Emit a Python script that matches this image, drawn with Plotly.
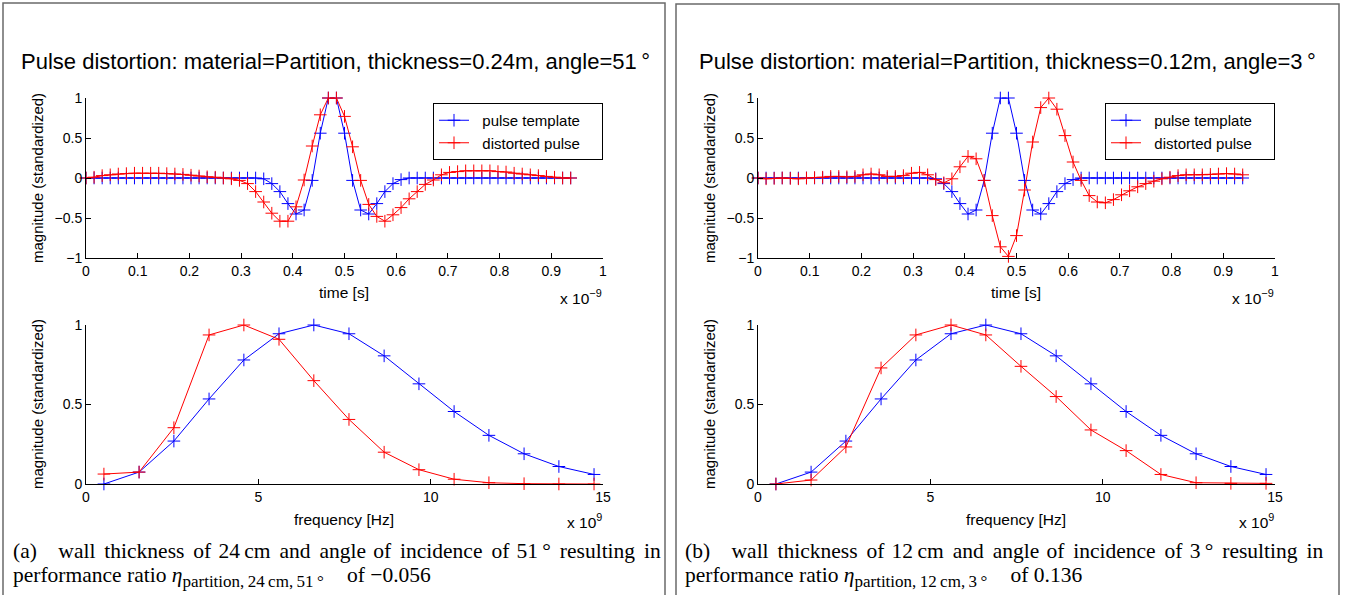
import plotly.graph_objects as go

# ---------------- data ----------------
t_step = 1 / 64  # sampling step, in units of 1e-9 s
time_ns = [i * t_step for i in range(61)]

pulse_template = [
    0.0, 0.0, 0.0, 0.0, 0.0, 0.0, 0.0, 0.0, 0.0, 0.0,
    0.0, 0.0, 0.0, 0.0, 0.0, 0.0, 0.0, 0.0, 0.0, 0.0,
    0.0, 0.0, -0.01, -0.07, -0.17, -0.32, -0.45, -0.40, -0.03, 0.56,
    1.0, 1.0, 0.56, -0.03, -0.40, -0.45, -0.32, -0.17, -0.07, -0.02,
    0.0, 0.0, 0.0, 0.0, 0.0, 0.0, 0.0, 0.0, 0.0, 0.0,
    0.0, 0.0, 0.0, 0.0, 0.0, 0.0, 0.0, 0.0, 0.0, 0.0,
    0.0,
]

distorted_a = [
    0.0, 0.01, 0.03, 0.04, 0.05, 0.055, 0.06, 0.06, 0.06, 0.06,
    0.055, 0.05, 0.045, 0.035, 0.025, 0.015, 0.01, 0.0, -0.01, -0.03,
    -0.07, -0.17, -0.30, -0.44, -0.54, -0.54, -0.36, -0.025, 0.40, 0.79,
    1.0, 1.0, 0.77, 0.39, -0.03, -0.33, -0.48, -0.54, -0.46, -0.37,
    -0.26, -0.17, -0.08, -0.025, 0.04, 0.07, 0.08, 0.09, 0.09, 0.09,
    0.09, 0.08, 0.075, 0.06, 0.05, 0.04, 0.03, 0.02, 0.01, 0.0,
    0.0,
]

distorted_b = [
    0.0, -0.01, -0.005, 0.0, -0.005, -0.01, 0.0, 0.005, 0.01, 0.02,
    0.02, 0.015, 0.02, 0.04, 0.05, 0.04, 0.02, 0.02, 0.03, 0.06,
    0.07, 0.04, -0.02, -0.06, -0.01, 0.14, 0.27, 0.24, -0.03, -0.47,
    -0.86, -0.98, -0.72, -0.15, 0.45, 0.88, 1.0, 0.86, 0.53, 0.20,
    -0.03, -0.22, -0.30, -0.31, -0.27, -0.21, -0.16, -0.11, -0.07, -0.04,
    -0.01, 0.01, 0.03, 0.04, 0.04, 0.04, 0.045, 0.05, 0.055, 0.05,
    0.04,
]

freq_ghz = [0.52, 1.54, 2.55, 3.57, 4.58, 5.60, 6.61, 7.63, 8.65, 9.66,
            10.68, 11.69, 12.71, 13.72, 14.74]

spec_template = [0.0, 0.075, 0.27, 0.535, 0.78, 0.945, 1.0, 0.945, 0.806,
                 0.63, 0.456, 0.306, 0.19, 0.11, 0.06]
spec_distorted_a = [0.0625, 0.075, 0.354, 0.9375, 1.0, 0.91, 0.65, 0.406,
                    0.20, 0.09, 0.03, 0.008, 0.002, 0.0, 0.0]
spec_distorted_b = [0.0, 0.025, 0.233, 0.73, 0.9375, 1.0, 0.9375, 0.74,
                    0.55, 0.34, 0.21, 0.06, 0.008, 0.004, 0.004]

time_ticks = [0, 0.1, 0.2, 0.3, 0.4, 0.5, 0.6, 0.7, 0.8, 0.9, 1]
time_ticktext = ["0", "0.1", "0.2", "0.3", "0.4", "0.5", "0.6", "0.7", "0.8", "0.9", "1"]
amp_ticks = [-1, -0.5, 0, 0.5, 1]
amp_ticktext = ["\u22121", "\u22120.5", "0", "0.5", "1"]
freq_ticks = [0, 5, 10, 15]
mag_ticks = [0, 0.5, 1]
mag_ticktext = ["0", "0.5", "1"]

titles = [
    "Pulse distortion: material=Partition, thickness=0.24m, angle=51\u2009°",
    "Pulse distortion: material=Partition, thickness=0.12m, angle=3\u2009°",
]
WIDE, NARROW = "\u2004\u200a", "\u2004"  # spaces that mimic the justified caption line
GAP_PATTERN = [WIDE, WIDE, NARROW, WIDE, WIDE, NARROW, WIDE, WIDE, NARROW, WIDE, WIDE]


def justified(words):
    out = words[0]
    for gap, w in zip(GAP_PATTERN, words[1:]):
        out += gap + w
    return out


SUB = '<sub><span style="font-size:17px">{}</span></sub>'
captions = [
    ("(a)\u2003" + justified(["wall", "thickness", "of", "24\u2009cm", "and", "angle", "of",
                               "incidence", "of", "51\u2009°", "resulting", "in"]),
     "performance ratio <i>η</i>"
     + SUB.format("partition,\u200924\u2009cm,\u200951\u2009°")
     + "\u2003\u200aof \u22120.056"),
    ("(b)\u2003" + justified(["wall", "thickness", "of", "12\u2009cm", "and", "angle", "of",
                               "incidence", "of", "3\u2009°", "resulting", "in"]),
     "performance ratio <i>η</i>"
     + SUB.format("partition,\u200912\u2009cm,\u20093\u2009°")
     + "\u2003\u200aof 0.136"),
]
legend_names = ["pulse template", "distorted pulse"]

# ---------------- layout helpers ----------------
W, H = 1352, 595
SANS = "Liberation Sans, Arial, Helvetica, sans-serif"
SERIF = "Liberation Serif, Times New Roman, serif"
BLUE, RED = "#0000ff", "#ff0000"
NB = "\u00a0"


def px(x):
    return x / W


def py(y):
    return 1 - y / H


fig = go.Figure()

panel_dx = [0, 672]
distorted_sets = [distorted_a, distorted_b]
spec_sets = [spec_distorted_a, spec_distorted_b]
legend_ids = ["legend", "legend2"]


def add_pair(x, y_blue, y_red, xa, ya, leg, show):
    for name, yy, col in [(legend_names[0], y_blue, BLUE), (legend_names[1], y_red, RED)]:
        fig.add_trace(go.Scatter(
            x=x, y=yy, name=NB * 2 + name + NB * 4,
            mode="lines+markers", xaxis=xa, yaxis=ya, cliponaxis=False,
            legend=leg, showlegend=show,
            line=dict(color=col, width=1),
            marker=dict(symbol="cross-thin", size=9, line=dict(color=col, width=1))))


axis_common = dict(showline=True, linecolor="black", linewidth=1, mirror=False,
                   ticks="inside", ticklen=5, tickcolor="black", tickwidth=1,
                   showgrid=False, zeroline=False, automargin=False,
                   tickfont=dict(family=SANS, size=14, color="black"))

annotations = []
shapes = []
LBL = 15.5


def note(text, x, y, size, family=SANS, xanchor="center", angle=0):
    annotations.append(dict(text=text, x=px(x), y=py(y), xref="paper", yref="paper",
                            showarrow=False, xanchor=xanchor, yanchor="middle",
                            textangle=angle,
                            font=dict(family=family, size=size, color="black")))


def key(n, a):
    return f"{a}axis" if n == 1 else f"{a}axis{n}"


for p in range(2):
    dx = panel_dx[p]
    n_top, n_bot = 2 * p + 1, 2 * p + 2
    xa_top = "x" if n_top == 1 else f"x{n_top}"
    ya_top = "y" if n_top == 1 else f"y{n_top}"
    xa_bot, ya_bot = f"x{n_bot}", f"y{n_bot}"

    add_pair(time_ns, pulse_template, distorted_sets[p], xa_top, ya_top,
             legend_ids[p], True)
    add_pair(freq_ghz, spec_template, spec_sets[p], xa_bot, ya_bot,
             legend_ids[p], False)

    xdom = [px(86 + dx), px(603 + dx)]
    fig.layout[key(n_top, "x")] = dict(domain=xdom, range=[0, 1], anchor=ya_top,
                                       tickvals=time_ticks, ticktext=time_ticktext,
                                       **axis_common)
    fig.layout[key(n_top, "y")] = dict(domain=[py(258), py(98)], range=[-1, 1],
                                       anchor=xa_top, tickvals=amp_ticks,
                                       ticktext=amp_ticktext, **axis_common)
    fig.layout[key(n_bot, "x")] = dict(domain=xdom, range=[0, 15], anchor=ya_bot,
                                       tickvals=freq_ticks, **axis_common)
    fig.layout[key(n_bot, "y")] = dict(domain=[py(484), py(325)], range=[0, 1],
                                       anchor=xa_bot, tickvals=mag_ticks,
                                       ticktext=mag_ticktext, **axis_common)

    shapes.append(dict(type="rect", xref="paper", yref="paper",
                       x0=px(3 + dx + p), x1=px(665 + dx + p * 2),
                       y0=py(610), y1=py(3 + p),
                       line=dict(color="#6a6a6a", width=1.5)))

    note(titles[p], 335 + dx, 62, 22)
    note("magnitude (standardized)", 37 + dx, 178, 15, angle=-90)
    note("magnitude (standardized)", 37 + dx, 404, 15, angle=-90)
    note("time [s]", 344 + dx, 292, LBL)
    note("frequency [Hz]", 344 + dx, 519, LBL)
    note("x 10<sup>\u22129</sup>", 604 + dx, 297, LBL, xanchor="right")
    note("x 10<sup>9</sup>", 604 + dx, 521, LBL, xanchor="right")
    note(captions[p][0], 11 + dx, 551, 21.5, family=SERIF, xanchor="left")
    note(captions[p][1], 11 + dx, 577, 21.5, family=SERIF, xanchor="left")

legend_style = dict(xanchor="right", yanchor="top", bgcolor="white",
                    bordercolor="black", borderwidth=1,
                    font=dict(family=SANS, size=15, color="black"),
                    tracegroupgap=0)
fig.update_layout(
    template="none",
    width=W, height=H, autosize=False,
    margin=dict(l=0, r=0, t=0, b=0, pad=0, autoexpand=False),
    paper_bgcolor="white", plot_bgcolor="white",
    annotations=annotations, shapes=shapes,
    legend=dict(x=px(603), y=py(103), **legend_style),
    legend2=dict(x=px(1275), y=py(103), **legend_style),
)

fig.write_html(
    "out.html",
    config={"displayModeBar": False},
    post_script="document.body.style.margin='0';document.body.style.overflow='hidden';",
)
